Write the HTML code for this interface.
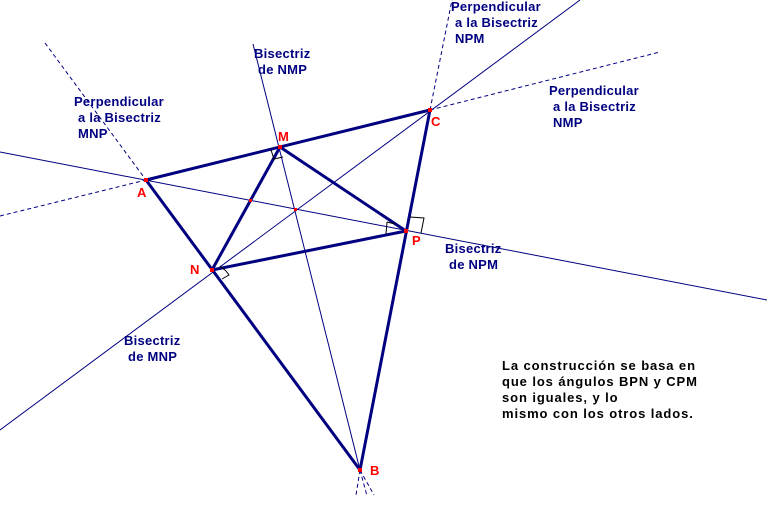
<!DOCTYPE html>
<html><head><meta charset="utf-8"><style>
html,body{margin:0;padding:0;background:#fff;}
svg{display:block;}
text{font-family:"Liberation Sans",sans-serif;font-weight:bold;font-size:13px;letter-spacing:0.25px;}
text.n{letter-spacing:0.9px;}
</style></head><body>
<svg width="773" height="512" viewBox="0 0 773 512" xmlns="http://www.w3.org/2000/svg">
<g stroke="#000080" stroke-width="1" fill="none">
<line x1="0" y1="152" x2="767" y2="300"/>
<line x1="253" y1="44" x2="360" y2="470"/>
<line x1="360" y1="470" x2="367" y2="496" stroke-dasharray="4,3"/>
<line x1="0" y1="430" x2="580" y2="0"/>
<line x1="45" y1="43" x2="146" y2="180" stroke-dasharray="4,3"/>
<line x1="360" y1="470" x2="374" y2="495" stroke-dasharray="4,3"/>
<line x1="0" y1="216" x2="146" y2="180" stroke-dasharray="4,3"/>
<line x1="430" y1="110" x2="660" y2="52" stroke-dasharray="4,3"/>
<line x1="430" y1="110" x2="452" y2="0" stroke-dasharray="4,3"/>
<line x1="360" y1="470" x2="356" y2="495" stroke-dasharray="4,3"/>
</g>
<g stroke="#000080" stroke-width="3" fill="none" stroke-linejoin="round">
<polygon points="146,180 430,110 360,470"/>
<polygon points="280,147 406,231 212,270"/>
</g>
<g stroke="#000" stroke-width="1" fill="none">
<polyline points="271,150 274,159 283,157"/>
<polyline points="410,217 424,218 421,233"/>
<polyline points="387,222 386,234"/>
<polyline points="387,222 395,224"/>
<polyline points="220,266 226,271 229,275 222,279"/>
</g>
<g fill="#ff0000">
<rect x="144" y="178" width="4" height="4"/>
<rect x="278" y="145" width="4" height="4"/>
<rect x="428" y="108" width="4" height="4"/>
<rect x="404" y="229" width="4" height="4"/>
<rect x="210" y="268" width="4" height="4"/>
<rect x="358" y="468" width="4" height="4"/>
<rect x="249" y="199" width="3" height="3"/>
<rect x="294" y="208" width="3" height="3"/>
</g>
<g fill="#ff0000">
<text x="137" y="197">A</text>
<text x="278" y="141">M</text>
<text x="431" y="126">C</text>
<text x="412" y="245">P</text>
<text x="190" y="274">N</text>
<text x="370" y="475">B</text>
</g>
<g fill="#000080">
<text x="74" y="106">Perpendicular</text>
<text x="78" y="122">a la Bisectriz</text>
<text x="78" y="138">MNP</text>
<text x="451" y="11">Perpendicular</text>
<text x="455" y="27">a la Bisectriz</text>
<text x="455" y="43">NPM</text>
<text x="549" y="95">Perpendicular</text>
<text x="553" y="111">a la Bisectriz</text>
<text x="553" y="127">NMP</text>
<text x="254" y="58">Bisectriz</text>
<text x="258" y="74">de NMP</text>
<text x="445" y="253">Bisectriz</text>
<text x="449" y="269">de NPM</text>
<text x="124" y="345">Bisectriz</text>
<text x="128" y="361">de MNP</text>
</g>
<g fill="#000">
<text class="n" x="502" y="370">La construcción se basa en</text>
<text class="n" x="502" y="386">que los ángulos BPN y CPM</text>
<text class="n" x="502" y="402">son iguales, y lo</text>
<text class="n" x="502" y="418">mismo con los otros lados.</text>
</g>
</svg>
</body></html>
